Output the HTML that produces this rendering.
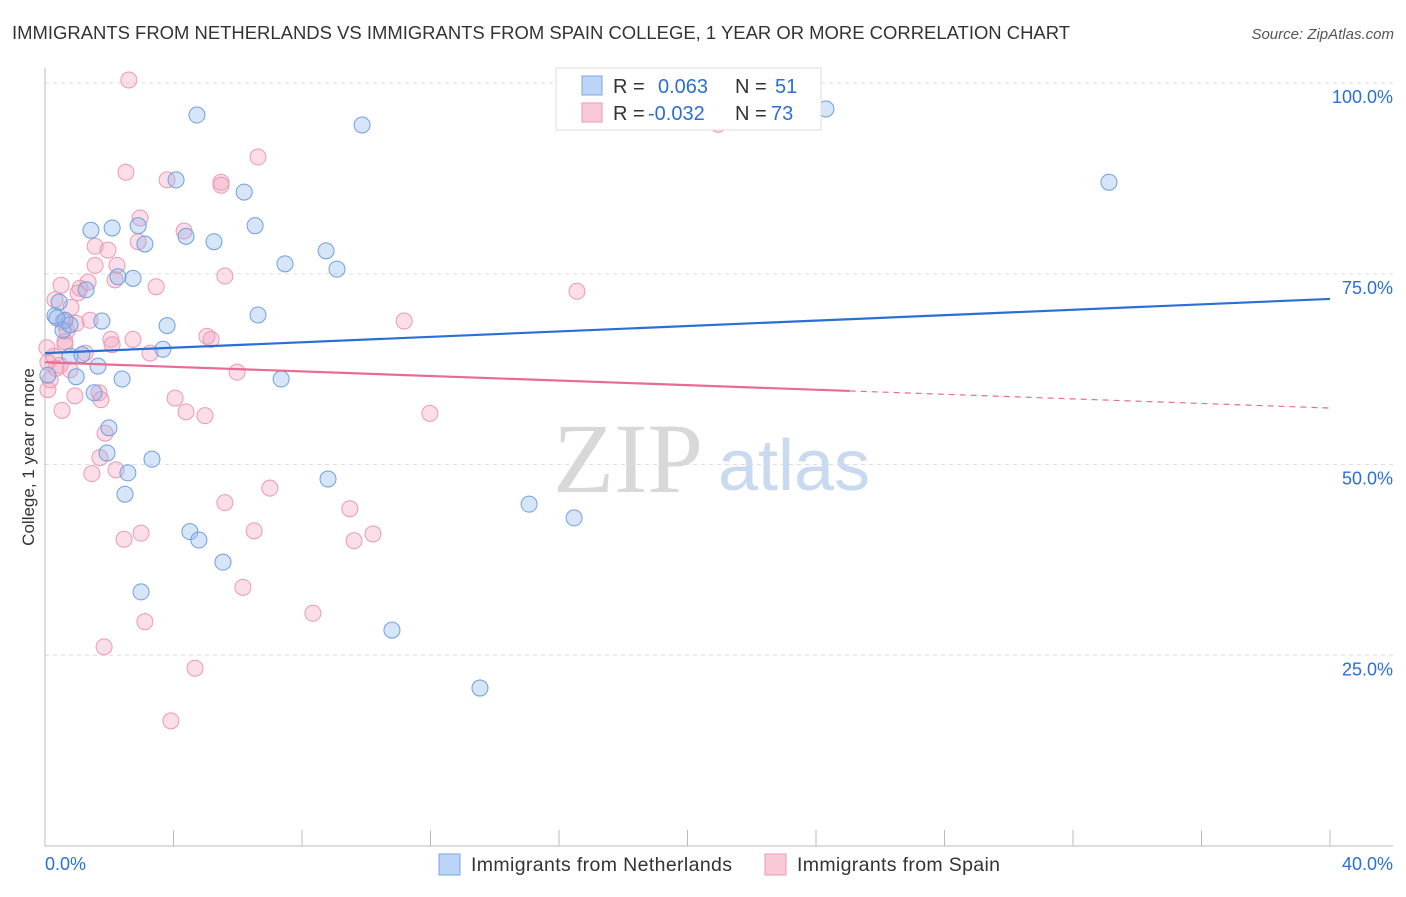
<!DOCTYPE html>
<html><head><meta charset="utf-8"><style>
body{margin:0;background:#fff;font-family:"Liberation Sans",sans-serif;}
</style></head><body>
<svg id="chart" width="1406" height="892" font-family="Liberation Sans, sans-serif">
<text x="12" y="39" font-size="18" fill="#333" textLength="1058" lengthAdjust="spacingAndGlyphs">IMMIGRANTS FROM NETHERLANDS VS IMMIGRANTS FROM SPAIN COLLEGE, 1 YEAR OR MORE CORRELATION CHART</text>
<text x="1394" y="39" font-size="15" fill="#555" font-style="italic" text-anchor="end">Source: ZipAtlas.com</text>
<text x="34" y="457" font-size="17" fill="#333" text-anchor="middle" transform="rotate(-90 34 457)">College, 1 year or more</text>
<g id="grid"></g>
<text x="553" y="492" font-size="100" fill="#d8d8d8" style="font-family:'Liberation Serif',serif">ZIP</text>
<text x="718" y="490" font-size="72" fill="#c9d9ef">atlas</text>
<g id="axes"></g>
<g id="pts"></g>
<g id="trends"></g>
<g>
<rect x="556" y="68" width="265" height="62" fill="#fff" stroke="#ddd"/>
<rect x="582" y="76" width="20" height="19" fill="#bcd4f5" stroke="#7aa6e6"/>
<rect x="582" y="103" width="20" height="19" fill="#f9c9d8" stroke="#eb9ab3"/>
<text y="93" font-size="20" fill="#333"><tspan x="613">R =</tspan><tspan x="658" fill="#2a6fd6">0.063</tspan><tspan x="735">N =</tspan><tspan x="775" fill="#2a6fd6">51</tspan></text>
<text y="120" font-size="20" fill="#333"><tspan x="613">R =</tspan><tspan x="648" fill="#2a6fd6">-0.032</tspan><tspan x="735">N =</tspan><tspan x="771" fill="#2a6fd6">73</tspan></text>
</g>
<g>
<rect x="439" y="854" width="21" height="21" fill="#bcd4f5" stroke="#7aa6e6"/>
<text x="471" y="871" font-size="19.5" fill="#333" textLength="261">Immigrants from Netherlands</text>
<rect x="765" y="854" width="21" height="21" fill="#f9c9d8" stroke="#eb9ab3"/>
<text x="797" y="871" font-size="19.5" fill="#333" textLength="203">Immigrants from Spain</text>
</g>
</svg>
<script>
const yTicks=[25,50,75,100];
const yTickLabels=["25.0%","50.0%","75.0%","100.0%"];
const xEndLabels=["0.0%","40.0%"];
const blueX=[4.73,9.87,24.31,33.12,4.08,6.20,1.43,2.09,2.90,6.54,3.11,4.39,5.26,8.75,7.47,9.09,2.27,2.74,0.44,0.31,1.28,0.62,1.77,6.63,3.80,3.67,0.78,1.15,1.65,2.40,0.97,7.35,1.53,1.99,1.93,3.33,2.58,8.81,2.49,15.07,16.47,4.51,4.79,5.54,2.99,10.80,13.54,0.09,0.56,0.37,0.78];
const blueY=[95.8,94.5,96.6,87.0,87.3,85.7,80.7,81.0,81.3,81.3,78.9,79.9,79.2,78.0,76.3,75.6,74.6,74.4,71.3,69.5,72.9,68.9,68.8,69.6,68.2,65.1,64.2,64.4,62.9,61.2,61.5,61.2,59.4,54.8,51.5,50.7,48.9,48.1,46.1,44.8,43.0,41.2,40.1,37.2,33.3,28.3,20.7,61.7,67.6,69.2,68.3];
const pinkX=[2.61,2.52,6.63,3.80,5.48,5.48,2.96,2.90,4.33,1.56,1.96,1.56,2.24,5.60,3.46,0.50,1.34,1.09,1.03,16.56,11.18,0.81,0.97,0.56,0.68,5.04,5.17,2.05,2.74,2.09,3.27,0.62,0.28,1.25,0.09,0.34,5.98,4.05,1.68,1.74,0.93,4.39,4.98,11.98,0.53,1.87,1.71,2.21,1.46,7.00,5.60,9.49,2.46,2.99,6.51,10.21,9.62,6.16,8.34,3.11,1.84,4.67,3.92,20.95,0.09,0.16,0.47,0.78,0.06,1.40,0.31,2.18,0.62];
const pinkY=[100.4,88.3,90.3,87.3,87.0,86.6,82.3,79.2,80.6,78.6,78.1,76.1,76.1,74.7,73.3,73.5,73.9,73.1,72.5,72.7,68.8,70.6,68.5,68.7,67.5,66.8,66.4,66.4,66.4,65.7,64.6,66.1,64.2,64.6,63.4,62.6,62.1,58.7,59.4,58.5,59.0,56.9,56.4,56.7,57.1,54.1,50.9,49.3,48.8,46.9,45.0,44.2,40.2,41.0,41.3,40.9,40.0,33.9,30.5,29.4,26.1,23.3,16.4,94.6,59.8,61.1,63.0,62.4,65.3,68.9,71.6,74.2,65.7];
const blueTrend=[64.6,71.7];
const pinkTrend=[63.4,57.4];
const pinkSolidEnd=25.05;
const NS="http://www.w3.org/2000/svg";
const sx=v=>45+v/40*1285, sy=v=>846-v/100*763;
function mk(t,a,p){const e=document.createElementNS(NS,t);for(const k in a)e.setAttribute(k,a[k]);p.appendChild(e);return e;}
const grid=document.getElementById('grid'),axes=document.getElementById('axes');
yTicks.forEach((v,i)=>{
 const l=mk('line',{x1:45,x2:1393,y1:sy(v),y2:sy(v),stroke:'#ddd','stroke-dasharray':'4 4'},grid);
 
 
 const t=mk('text',{x:1393,y:sy(v)+20,'font-size':18,fill:'#2a6fd6','text-anchor':'end'},axes);
 t.textContent=yTickLabels[i];
 
 
});
let a=mk('line',{x1:45,x2:45,y1:68,y2:846,stroke:'#bbb'},axes);


a=mk('line',{x1:45,x2:1393,y1:846,y2:846,stroke:'#bbb'},axes);


for(let i=0;i<=10;i++){const t=mk('line',{x1:sx(i*4),x2:sx(i*4),y1:830,y2:846,stroke:'#bbb'},axes);
 
 }
[[0,'start',45],[40,'end',1393]].forEach((d,i)=>{const t=mk('text',{x:d[2],y:870,'font-size':18,fill:'#2a6fd6','text-anchor':d[1]},axes);t.textContent=xEndLabels[i];
 
 });
const pts=document.getElementById('pts');
pinkX.forEach((x,i)=>{const c=mk('circle',{cx:sx(x),cy:sy(pinkY[i]),r:8,fill:'rgba(244,160,190,0.35)',stroke:'#eb9ab3','stroke-width':1},pts);
 
 });
blueX.forEach((x,i)=>{const c=mk('circle',{cx:sx(x),cy:sy(blueY[i]),r:8,fill:'rgba(140,180,235,0.35)',stroke:'#6f9fe0','stroke-width':1},pts);
 
 });
const tr=document.getElementById('trends');
let l=mk('line',{x1:sx(0),y1:sy(blueTrend[0]),x2:sx(40),y2:sy(blueTrend[1]),stroke:'#2a6fd6','stroke-width':2.2},tr);


const pm=pinkTrend[0]+(pinkTrend[1]-pinkTrend[0])*pinkSolidEnd/40;
l=mk('line',{x1:sx(0),y1:sy(pinkTrend[0]),x2:sx(pinkSolidEnd),y2:sy(pm),stroke:'#e86b94','stroke-width':2.2},tr);


l=mk('line',{x1:sx(pinkSolidEnd),y1:sy(pm),x2:sx(40),y2:sy(pinkTrend[1]),stroke:'#e86b94','stroke-width':1.2,'stroke-dasharray':'6 5'},tr);


</script>
</body></html>
